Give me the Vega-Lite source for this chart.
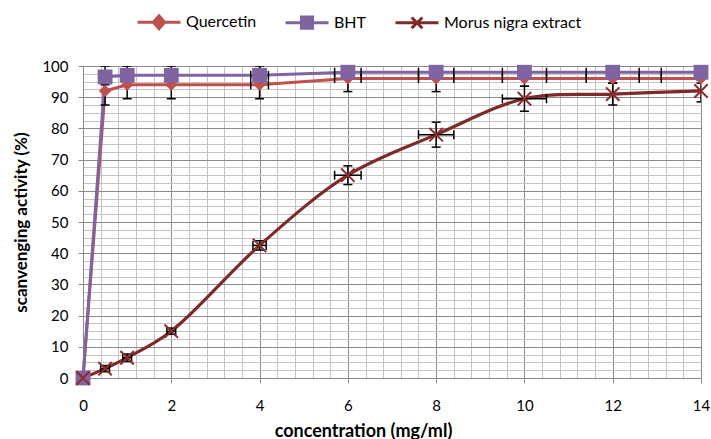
{
  "$schema": "https://vega.github.io/schema/vega-lite/v6.json",
  "width": 618,
  "height": 312,
  "autosize": {"type": "none"},
  "padding": {"left": 83, "top": 66, "right": 10, "bottom": 61},
  "config": {
    "view": {"stroke": null},
    "font": "Lato",
    "axis": {"labelFont": "Lato", "titleFont": "Lato", "labelColor": "#000000", "titleColor": "#000000"}
  },
  "datasets": {
    "series": [
      {"series": "Quercetin", "x": 0, "y": 0},
      {"series": "Quercetin", "x": 0.5, "y": 92},
      {"series": "Quercetin", "x": 1, "y": 94},
      {"series": "Quercetin", "x": 2, "y": 94},
      {"series": "Quercetin", "x": 4, "y": 94},
      {"series": "Quercetin", "x": 6, "y": 96},
      {"series": "Quercetin", "x": 8, "y": 96},
      {"series": "Quercetin", "x": 10, "y": 96},
      {"series": "Quercetin", "x": 12, "y": 96},
      {"series": "Quercetin", "x": 14, "y": 96},
      {"series": "BHT", "x": 0, "y": 0},
      {"series": "BHT", "x": 0.5, "y": 96.5},
      {"series": "BHT", "x": 1, "y": 97},
      {"series": "BHT", "x": 2, "y": 97},
      {"series": "BHT", "x": 4, "y": 97},
      {"series": "BHT", "x": 6, "y": 98},
      {"series": "BHT", "x": 8, "y": 98},
      {"series": "BHT", "x": 10, "y": 98},
      {"series": "BHT", "x": 12, "y": 98},
      {"series": "BHT", "x": 14, "y": 98},
      {"series": "Morus nigra extract", "x": 0, "y": 0},
      {"series": "Morus nigra extract", "x": 0.5, "y": 3},
      {"series": "Morus nigra extract", "x": 1, "y": 6.5},
      {"series": "Morus nigra extract", "x": 2, "y": 15},
      {"series": "Morus nigra extract", "x": 4, "y": 42.5},
      {"series": "Morus nigra extract", "x": 6, "y": 65},
      {"series": "Morus nigra extract", "x": 8, "y": 78},
      {"series": "Morus nigra extract", "x": 10, "y": 89.5},
      {"series": "Morus nigra extract", "x": 12, "y": 91},
      {"series": "Morus nigra extract", "x": 14, "y": 92}
    ],
    "errors": [
      {"series": "Quercetin", "x": 0.5, "y": 92, "ylo": 87.5, "yhi": 96.5},
      {"series": "Quercetin", "x": 1, "y": 94, "ylo": 89.5, "yhi": 98.5},
      {"series": "Quercetin", "x": 2, "y": 94, "ylo": 89.5, "yhi": 98.5},
      {"series": "Quercetin", "x": 4, "y": 94, "ylo": 89.5, "yhi": 98.5, "xlo": 3.8, "xhi": 4.2},
      {"series": "Quercetin", "x": 6, "y": 96, "ylo": 91.8, "yhi": 100, "xlo": 5.7, "xhi": 6.3},
      {"series": "Quercetin", "x": 8, "y": 96, "ylo": 91.8, "yhi": 100, "xlo": 7.6, "xhi": 8.4},
      {"series": "Quercetin", "x": 10, "y": 96, "ylo": 93.5, "yhi": 98.5, "xlo": 9.5, "xhi": 10.5},
      {"series": "Quercetin", "x": 12, "y": 96, "ylo": 94.5, "yhi": 97.5, "xlo": 11.4, "xhi": 12.6},
      {"series": "Quercetin", "x": 14, "y": 96, "ylo": 94.5, "yhi": 97.5, "xlo": 13.1, "xhi": 14.9},
      {"series": "BHT", "x": 0.5, "y": 96.5, "ylo": 94, "yhi": 100},
      {"series": "BHT", "x": 1, "y": 97, "ylo": 94, "yhi": 100},
      {"series": "BHT", "x": 2, "y": 97, "ylo": 94, "yhi": 100},
      {"series": "BHT", "x": 4, "y": 97, "ylo": 94, "yhi": 100, "xlo": 3.8, "xhi": 4.2},
      {"series": "BHT", "x": 6, "y": 98, "ylo": 96, "yhi": 100, "xlo": 5.7, "xhi": 6.3},
      {"series": "BHT", "x": 8, "y": 98, "ylo": 96, "yhi": 100, "xlo": 7.6, "xhi": 8.4},
      {"series": "BHT", "x": 10, "y": 98, "ylo": 96, "yhi": 100, "xlo": 9.5, "xhi": 10.5},
      {"series": "BHT", "x": 12, "y": 98, "ylo": 96, "yhi": 100, "xlo": 11.4, "xhi": 12.6},
      {"series": "BHT", "x": 14, "y": 98, "ylo": 96, "yhi": 100, "xlo": 13.1, "xhi": 14.9},
      {"series": "Morus nigra extract", "x": 0.5, "y": 3, "ylo": 2, "yhi": 4, "xlo": 0.4, "xhi": 0.6},
      {"series": "Morus nigra extract", "x": 1, "y": 6.5, "ylo": 5.3, "yhi": 7.7, "xlo": 0.9, "xhi": 1.1},
      {"series": "Morus nigra extract", "x": 2, "y": 15, "ylo": 14, "yhi": 16, "xlo": 1.9, "xhi": 2.1},
      {"series": "Morus nigra extract", "x": 4, "y": 42.5, "ylo": 41, "yhi": 44, "xlo": 3.85, "xhi": 4.15},
      {"series": "Morus nigra extract", "x": 6, "y": 65, "ylo": 62, "yhi": 68, "xlo": 5.7, "xhi": 6.3},
      {"series": "Morus nigra extract", "x": 8, "y": 78, "ylo": 74, "yhi": 82, "xlo": 7.6, "xhi": 8.4},
      {"series": "Morus nigra extract", "x": 10, "y": 89.5, "ylo": 85.5, "yhi": 93.5, "xlo": 9.5, "xhi": 10.5},
      {"series": "Morus nigra extract", "x": 12, "y": 91, "ylo": 87.5, "yhi": 94.5},
      {"series": "Morus nigra extract", "x": 14, "y": 92, "ylo": 88.5, "yhi": 95.5}
    ]
  },
  "layer": [
    {
      "data": {"name": "errors"},
      "transform": [{"filter": "isValid(datum.xlo) && datum.series !== 'Morus nigra extract'"}],
      "mark": {"type": "rule", "color": "#000000", "strokeWidth": 1.5, "clip": true},
      "encoding": {
        "x": {
          "field": "xlo", "type": "quantitative",
          "scale": {"domain": [0, 14], "nice": false, "zero": false},
          "axis": {
            "title": "concentration (mg/ml)",
            "values": [0,0.4,0.8,1.2,1.6,2,2.4,2.8,3.2,3.6,4,4.4,4.8,5.2,5.6,6,6.4,6.8,7.2,7.6,8,8.4,8.8,9.2,9.6,10,10.4,10.8,11.2,11.6,12,12.4,12.8,13.2,13.6,14],
            "tickCount": 200,
            "labelExpr": "abs(datum.value/2 - round(datum.value/2)) < 0.01 ? format(datum.value, 'd') : ''",
            "grid": true,
            "gridColor": {"condition": {"test": "abs(datum.value/2 - round(datum.value/2)) < 0.01", "value": "#8A8A8A"}, "value": "#C4C4C4"},
            "gridWidth": 1,
            "tickColor": {"condition": {"test": "abs(datum.value/2 - round(datum.value/2)) < 0.01", "value": "#8A8A8A"}, "value": "transparent"},
            "tickSize": 5,
            "domainColor": "#8A8A8A",
            "labelFontSize": 15,
            "labelPadding": 15,
            "labelFlush": false,
            "labelOverlap": false,
            "titleFontSize": 18,
            "titleFontWeight": "bold",
            "titlePadding": 9,
            "titleX": 280
          }
        },
        "x2": {"field": "xhi"},
        "y": {
          "field": "y", "type": "quantitative",
          "scale": {"domain": [0, 100], "nice": false},
          "axis": {
            "title": "scanvenging activity (%)",
            "values": [0,2.5,5,7.5,10,12.5,15,17.5,20,22.5,25,27.5,30,32.5,35,37.5,40,42.5,45,47.5,50,52.5,55,57.5,60,62.5,65,67.5,70,72.5,75,77.5,80,82.5,85,87.5,90,92.5,95,97.5,100],
            "tickCount": 200,
            "labelExpr": "datum.value % 10 === 0 ? format(datum.value, 'd') : ''",
            "grid": true,
            "gridColor": {"condition": {"test": "datum.value % 10 === 0", "value": "#8A8A8A"}, "value": "#C4C4C4"},
            "gridWidth": 1,
            "tickColor": {"condition": {"test": "datum.value % 10 === 0", "value": "#8A8A8A"}, "value": "transparent"},
            "tickSize": 5,
            "domainColor": "#8A8A8A",
            "labelFontSize": 15,
            "labelPadding": 10,
            "labelFlush": false,
            "labelOverlap": false,
            "titleFontSize": 17,
            "titleFontWeight": "bold",
            "titlePadding": 11
          }
        }
      }
    },
    {
      "data": {"name": "series"},
      "transform": [{"filter": "datum.series === 'Quercetin'"}],
      "mark": {"type": "line", "color": "#C0504D", "strokeWidth": 3, "clip": false},
      "encoding": {
        "x": {"field": "x", "type": "quantitative", "title": "concentration (mg/ml)"},
        "y": {"field": "y", "type": "quantitative", "title": "scanvenging activity (%)"}
      }
    },
    {
      "data": {"name": "series"},
      "transform": [{"filter": "datum.series === 'BHT'"}],
      "mark": {"type": "line", "color": "#8064A2", "strokeWidth": 3, "clip": false},
      "encoding": {
        "x": {"field": "x", "type": "quantitative", "title": "concentration (mg/ml)"},
        "y": {"field": "y", "type": "quantitative", "title": "scanvenging activity (%)"}
      }
    },
    {
      "data": {"name": "series"},
      "transform": [{"filter": "datum.series === 'Morus nigra extract'"}],
      "mark": {"type": "line", "color": "#7E2A2A", "strokeWidth": 3.2, "interpolate": "catmull-rom", "clip": false},
      "encoding": {
        "x": {"field": "x", "type": "quantitative", "title": "concentration (mg/ml)"},
        "y": {"field": "y", "type": "quantitative", "title": "scanvenging activity (%)"}
      }
    },
    {
      "data": {"name": "errors"},
      "mark": {"type": "rule", "color": "#000000", "strokeWidth": 1.5, "clip": true},
      "encoding": {
        "x": {"field": "x", "type": "quantitative", "title": "concentration (mg/ml)"},
        "y": {"field": "ylo", "type": "quantitative", "title": "scanvenging activity (%)"},
        "y2": {"field": "yhi"}
      }
    },
    {
      "data": {"name": "errors"},
      "mark": {"type": "tick", "orient": "horizontal", "color": "#000000", "size": 9, "thickness": 1.5, "opacity": 1, "clip": true},
      "encoding": {
        "x": {"field": "x", "type": "quantitative", "title": "concentration (mg/ml)"},
        "y": {"field": "ylo", "type": "quantitative", "title": "scanvenging activity (%)"}
      }
    },
    {
      "data": {"name": "errors"},
      "mark": {"type": "tick", "orient": "horizontal", "color": "#000000", "size": 9, "thickness": 1.5, "opacity": 1, "clip": true},
      "encoding": {
        "x": {"field": "x", "type": "quantitative", "title": "concentration (mg/ml)"},
        "y": {"field": "yhi", "type": "quantitative", "title": "scanvenging activity (%)"}
      }
    },
    {
      "data": {"name": "errors"},
      "transform": [{"filter": "isValid(datum.xlo) && datum.series === 'Morus nigra extract'"}],
      "mark": {"type": "rule", "color": "#000000", "strokeWidth": 1.5, "clip": true},
      "encoding": {
        "x": {"field": "xlo", "type": "quantitative", "title": "concentration (mg/ml)"},
        "x2": {"field": "xhi"},
        "y": {"field": "y", "type": "quantitative", "title": "scanvenging activity (%)"}
      }
    },
    {
      "data": {"name": "errors"},
      "transform": [{"filter": "isValid(datum.xlo)"}],
      "mark": {"type": "tick", "orient": "vertical", "color": "#000000", "size": 9, "thickness": 1.5, "opacity": 1, "clip": true},
      "encoding": {
        "x": {"field": "xlo", "type": "quantitative", "title": "concentration (mg/ml)"},
        "y": {"field": "y", "type": "quantitative", "title": "scanvenging activity (%)"}
      }
    },
    {
      "data": {"name": "errors"},
      "transform": [{"filter": "isValid(datum.xhi)"}],
      "mark": {"type": "tick", "orient": "vertical", "color": "#000000", "size": 9, "thickness": 1.5, "opacity": 1, "clip": true},
      "encoding": {
        "x": {"field": "xhi", "type": "quantitative", "title": "concentration (mg/ml)"},
        "y": {"field": "y", "type": "quantitative", "title": "scanvenging activity (%)"}
      }
    },
    {
      "data": {"name": "series"},
      "transform": [{"filter": "datum.series === 'Quercetin'"}],
      "mark": {"type": "point", "shape": "diamond", "filled": true, "color": "#C0504D", "size": 150, "opacity": 1, "clip": false},
      "encoding": {
        "x": {"field": "x", "type": "quantitative", "title": "concentration (mg/ml)"},
        "y": {"field": "y", "type": "quantitative", "title": "scanvenging activity (%)"}
      }
    },
    {
      "data": {"name": "series"},
      "transform": [{"filter": "datum.series === 'BHT'"}],
      "mark": {"type": "point", "shape": "square", "filled": true, "color": "#8064A2", "size": 220, "opacity": 1, "clip": false},
      "encoding": {
        "x": {"field": "x", "type": "quantitative", "title": "concentration (mg/ml)"},
        "y": {"field": "y", "type": "quantitative", "title": "scanvenging activity (%)"}
      }
    },
    {
      "data": {"name": "series"},
      "transform": [{"filter": "datum.series === 'Morus nigra extract'"}],
      "mark": {"type": "point", "shape": "M-1,-1L1,1M1,-1L-1,1", "filled": false, "color": "#8E2C2C", "strokeWidth": 2, "size": 180, "opacity": 1, "clip": false},
      "encoding": {
        "x": {"field": "x", "type": "quantitative", "title": "concentration (mg/ml)"},
        "y": {"field": "y", "type": "quantitative", "title": "scanvenging activity (%)"}
      }
    },
    {
      "data": {"name": "series"},
      "mark": {"type": "point", "filled": true, "opacity": 0},
      "encoding": {
        "x": {"field": "x", "type": "quantitative", "title": "concentration (mg/ml)"},
        "y": {"field": "y", "type": "quantitative", "title": "scanvenging activity (%)"},
        "color": {
          "field": "series", "type": "nominal",
          "scale": {"domain": ["Quercetin", "BHT", "Morus nigra extract"], "range": ["#C0504D", "#8064A2", "#7E2A2A"]},
          "legend": {
            "orient": "none",
            "direction": "horizontal",
            "legendX": 53,
            "legendY": -67,
            "title": null,
            "symbolSize": 1849,
            "symbolStrokeWidth": 3,
            "symbolOpacity": 1,
            "labelFont": "Lato",
            "labelFontSize": 16,
            "labelColor": "#000000",
            "labelOffset": 4,
            "columnPadding": 22,
            "padding": 0,
            "encode": {
              "symbols": {"update": {"fill": {"scale": "color", "field": "value"}, "stroke": {"scale": "color", "field": "value"}, "opacity": {"value": 1}, "fillOpacity": {"value": 1}, "strokeOpacity": {"value": 1}, "strokeWidth": {"value": 3}}}
            }
          }
        },
        "shape": {
          "field": "series", "type": "nominal",
          "scale": {"domain": ["Quercetin", "BHT", "Morus nigra extract"], "range": ["M-1,0L1,0M0,-0.3L0.26,0L0,0.3L-0.26,0Z", "M-1,0L1,0M-0.26,-0.26L0.26,-0.26L0.26,0.26L-0.26,0.26Z", "M-1,0L1,0M-0.25,-0.25L0.25,0.25M0.25,-0.25L-0.25,0.25"]}
        }
      }
    }
  ]
}
